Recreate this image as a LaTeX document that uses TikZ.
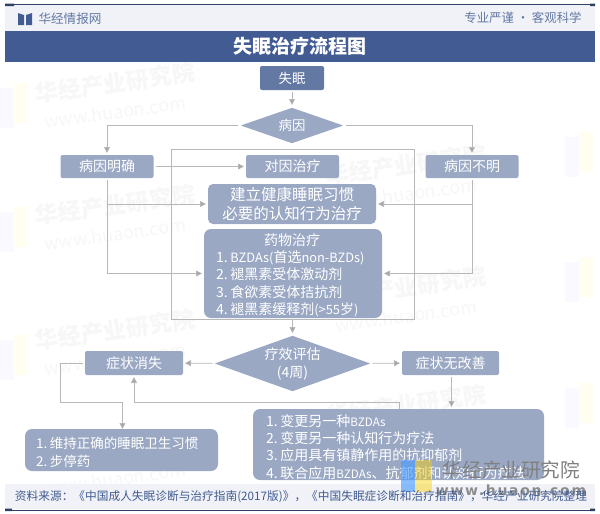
\documentclass[tikz,border=0pt]{standalone}
\usepackage{fontspec}
\setmainfont{Noto Sans CJK SC}
\newfontfamily\wmfont[LetterSpace=12]{DejaVu Sans}
\usetikzlibrary{shapes.geometric,arrows.meta}
\definecolor{navy}{HTML}{425B92}
\definecolor{boxdark}{HTML}{6379A4}
\definecolor{boxmid}{HTML}{9AA8C4}
\definecolor{lineg}{HTML}{B8B8B8}
\definecolor{tipg}{HTML}{A4A4A4}
\definecolor{bandg}{HTML}{F0F2F7}
\newcommand{\px}[2]{\fontsize{#1}{#2}\selectfont}
\newcommand{\nr}[1]{#1.\hspace{2.5pt}}
\newcommand{\ltn}[1]{{\fontsize{11.6}{14}\selectfont #1}}
\newcommand{\ltnb}[1]{{\fontsize{12.8}{14}\selectfont #1}}
\tikzstyle{greybox}=[rectangle,rounded corners=2pt,fill=boxmid,text=white,inner sep=0pt,outer sep=2pt,align=center,font=\px{14}{17}]
\tikzstyle{bigbox}=[rectangle,rounded corners=7pt,fill=boxmid,inner sep=0pt,outer sep=2pt]
\tikzstyle{boxtext}=[text=white,inner sep=0pt,align=left]
\tikzstyle{choice}=[diamond,fill=boxmid,text=white,inner sep=0pt,outer sep=2pt,align=center,font=\px{14}{18}]
\tikzstyle{edge}=[draw=lineg,line width=0.8pt,-{Triangle[length=6pt,width=6pt,fill=tipg]}]
\tikzstyle{plain}=[draw=lineg,line width=0.8pt]
\tikzstyle{faintmark}=[text=black!3,rotate=8,font=\bfseries\px{23}{25}]
\tikzstyle{fainturl}=[text=black!3,rotate=8,font=\px{18}{20}]
\begin{document}
\begin{tikzpicture}[x=1pt,y=-1pt]
\useasboundingbox (0,0) rectangle (600,514);
\fill[white] (0,0) rectangle (600,514);
% faint marks
\foreach \mx/\my in {115/83,115/205,115/330,115/450,406/165,406/287,406/405} {
    \node[faintmark] at (\mx,\my) {华经产业研究院};
    \node[fainturl] at (\mx,\my+29) {www.huaon.com};
}
\foreach \mx/\my in {0/83,0/207,0/335,565/132,565/257,565/383} {
    \fill[blue!30!white,opacity=.07] (\mx,\my+5) rectangle ++(14,40);
    \fill[yellow!60!white,opacity=.09] (\mx+14,\my) rectangle ++(14,40);
}
% header and footer
\fill[bandg] (5,5) rectangle (595,31);
\draw[navy!70!black,line width=0.8pt] (5,4.5) -- (595,4.5);
\fill[navy!70!black] (5,3.5) rectangle (14,6) (590,3.5) rectangle (595,6);
\fill[navy] (18,13) -- (24,15) -- (24,25) -- (18,25) -- cycle (32,13) -- (26,15) -- (26,25) -- (32,25) -- cycle;
\node[text=boxdark,font=\px{12.6}{14}] (brand) at (70,18.5) {华经情报网};
\node[text=boxdark,font=\px{12.4}{14}] (motto) at (523,18) {专业严谨 • 客观科学};
\node[fill=navy,text=white,minimum width=590pt,minimum height=31pt,inner sep=0pt,font=\bfseries\px{19}{21}] (title) at (300,46.5) {失眠治疗流程图};
\fill[bandg] (5,484) rectangle (595,509);
\draw[navy!70!black,line width=0.8pt] (5,510) -- (595,510);
\fill[navy!70!black] (5,508.5) rectangle (12,511) (590,508.5) rectangle (595,511);
% frame behind the steps
\node[plain,rectangle,inner sep=0pt,minimum width=243pt,minimum height=170pt] (frame) at (292.5,234) {};
% flow nodes
\node[greybox,fill=boxdark,minimum width=64pt,minimum height=24pt,font=\px{13.4}{16}] (start) at (292,78) {失眠};
\node[choice,aspect=2.8,minimum width=104pt,minimum height=37pt,font=\px{13.4}{16}] (cause) at (292,125.5) {病因};
\node[greybox,minimum width=93pt,minimum height=23pt] (known) at (107,166.5) {病因明确};
\node[greybox,minimum width=93pt,minimum height=23pt] (target) at (292.5,166.5) {对因治疗};
\node[greybox,minimum width=93pt,minimum height=23pt] (unknown) at (472,166.5) {病因不明};
\node[greybox,rounded corners=5pt,minimum width=168pt,minimum height=40pt,font=\px{15.5}{19}] (habit) at (292,204) {建立健康睡眠习惯\\必要的认知行为治疗};
\node[bigbox,minimum width=178pt,minimum height=89pt] (drug) at (293,273.5) {};
\node[boxtext,font=\px{14}{17}] (drugtitle) at (292,240) {药物治疗};
\node[boxtext,anchor=west,font=\px{14}{17.4}] (druglist) at (216,284) {\nr{1}\ltnb{BZDAs(}首选\ltnb{non-BZDs)}\\\nr{2}褪黑素受体激动剂\\\nr{3}食欲素受体拮抗剂\\\nr{4}褪黑素缓释剂\ltnb{(>55}岁\ltnb{)}};
\node[choice,aspect=2.75,minimum width=157pt,minimum height=57pt] (review) at (292.5,363.5) {疗效评估\\(4周)};
\node[greybox,minimum width=98pt,minimum height=24pt] (gone) at (134,363) {症状消失};
\node[greybox,minimum width=97pt,minimum height=24pt] (nogain) at (450.5,363) {症状无改善};
\node[bigbox,minimum width=193pt,minimum height=42pt] (keep) at (121.5,450) {};
\node[boxtext,anchor=west,font=\px{13.5}{18}] (keeptext) at (36,452) {\nr{1}维持正确的睡眠卫生习惯\\\nr{2}步停药};
\node[bigbox,minimum width=291pt,minimum height=71pt] (change) at (398.5,444.5) {};
\node[boxtext,anchor=west,font=\px{14}{17.3}] (changetext) at (266,447) {\nr{1}变更另一种\ltn{BZDAs}\\\nr{2}变更另一种认知行为疗法\\\nr{3}应用具有镇静作用的抗抑郁剂\\\nr{4}联合应用\ltn{BZDAs}、抗郁剂和认知行为疗法};
% connectors
\coordinate (leftturn) at (60.5,402);
\coordinate (downturn) at (122.5,402);
\coordinate (keeptop) at (122.5,429);
\coordinate (changetop) at (399.5,409);
\coordinate (upturn) at (134,402);
\coordinate (sinkpoint) at (451.5,407);
\draw[edge] (start) -- (cause);
\draw[edge] (cause) -| (known);
\draw[edge] (cause) -| (unknown);
\draw[edge] (known) -- (target);
\draw[edge] (known.south) |- (habit.west);
\draw[edge] (known.south) |- (drug.west);
\draw[edge] (unknown.south) |- (habit.east);
\draw[edge] (unknown.south) |- (drug.east);
\draw[edge] (frame.south) -- (review.north);
\draw[edge] (review) -- (gone);
\draw[edge] (review) -- (nogain);
\draw[edge] (nogain.south -| sinkpoint) -- (sinkpoint);
\draw[plain] (gone.west) -| (leftturn) -- (downturn);
\draw[edge] (downturn) -- (keeptop);
\draw[edge] (changetop) |- (upturn) -- (gone.south);
% stamp at the lower right
\fill[blue!55!cyan!70!white,opacity=.65] (400.5,460) rectangle (415,492);
\fill[yellow!70!orange,opacity=.45] (415,460) rectangle (432,492);
\node[text=black!50,font=\px{19.6}{22}] (stampname) at (511.5,470) {华经产业研究院};
\node[text=black!45,font=\bfseries\px{14}{16}\wmfont] (stampurl) at (511,490) {www.huaon.com};
\node[text=navy,font=\px{11.7}{14}] (source) at (301,497) {资料来源：《中国成人失眠诊断与治疗指南(2017版)》，《中国失眠症诊断和治疗指南》，华经产业研究院整理};
\end{tikzpicture}
\end{document}
